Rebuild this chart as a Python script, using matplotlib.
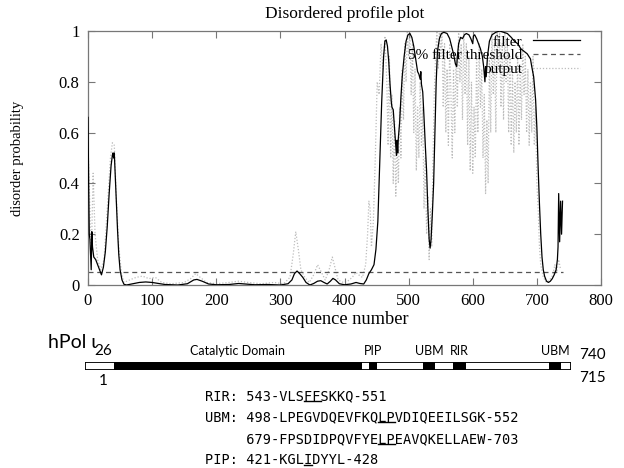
import matplotlib
matplotlib.use("Agg")
import matplotlib.pyplot as plt
from matplotlib.lines import Line2D
from matplotlib.transforms import blended_transform_factory

# ---------------- data ----------------
filter_x = [0, 1, 2, 3, 4, 5, 6, 7, 9, 12, 15, 18, 21, 24, 27, 30, 33, 36, 38, 39, 40, 41, 42, 44, 46, 48, 50, 53, 56, 60,
            70, 80, 90, 100, 110, 120, 140, 155, 165, 170, 178, 188, 200, 220, 235, 245, 260, 280, 300, 312, 318, 322, 326,
            330, 335, 340, 346, 352, 358, 363, 368, 373, 378, 382, 386, 392, 400, 410, 418, 424, 430, 434, 438, 442, 446,
            449, 452, 455, 458, 461, 463, 465, 467, 469, 471, 473, 474, 476, 478, 480, 481, 482, 483, 484, 486, 488, 490,
            493, 496, 499, 502, 505, 508, 511, 514, 516, 518, 519, 520, 522, 524, 526, 528, 530, 532, 533.5, 535, 537, 539,
            541, 543, 545, 548, 551, 555, 560, 564, 567, 570, 573, 575, 576, 578, 581, 584, 587, 590, 594, 597, 600, 601,
            603, 606, 609, 612, 615, 617, 619, 620, 621, 623, 626, 630, 636, 642, 648, 654, 660, 665, 670, 675, 680, 685,
            690, 692, 695, 698, 700, 702, 704, 706, 708, 710, 712, 715, 718, 721, 724, 727, 730, 732, 733, 734, 735.5,
            737, 738.5, 740]
filter_y = [0.66, 0.40, 0.20, 0.18, 0.12, 0.06, 0.21, 0.15, 0.11, 0.10, 0.08, 0.06, 0.04, 0.07, 0.13, 0.23, 0.36, 0.47,
            0.51, 0.52, 0.50, 0.52, 0.46, 0.33, 0.22, 0.12, 0.06, 0.02, 0.003, 0.0,
            0.005, 0.01, 0.012, 0.01, 0.006, 0.002, 0.0, 0.005, 0.02, 0.022, 0.015, 0.004, 0.001, 0.002, 0.006, 0.004,
            0.001, 0.002, 0.0, 0.005, 0.02, 0.045, 0.055,
            0.045, 0.03, 0.01, 0.0, 0.006, 0.015, 0.017, 0.01, 0.004, 0.015, 0.026, 0.02, 0.005, 0.001, 0.004, 0.01,
            0.006, 0.004, 0.02, 0.045, 0.06, 0.08,
            0.14, 0.25, 0.48, 0.72, 0.90, 0.96, 0.965, 0.94, 0.88, 0.79, 0.72, 0.70, 0.69, 0.62, 0.55, 0.51, 0.57, 0.52,
            0.58, 0.64, 0.74, 0.82,
            0.90, 0.96, 0.985, 0.99, 0.975, 0.94, 0.89, 0.84, 0.83, 0.81, 0.84, 0.79, 0.76, 0.66, 0.55, 0.45, 0.30, 0.18,
            0.145, 0.18, 0.28, 0.40,
            0.60, 0.80, 0.92, 0.97, 0.99, 0.995, 0.99, 0.97, 0.94, 0.91, 0.87, 0.86, 0.90, 0.95, 0.975, 0.97, 0.985, 0.99,
            0.985, 0.97, 0.95, 0.98,
            0.985, 0.97, 0.95, 0.93, 0.90, 0.86, 0.80, 0.86, 0.82, 0.90, 0.96, 0.985, 0.995, 1.0, 0.995, 0.99, 0.975, 0.96,
            0.95, 0.93, 0.92, 0.91,
            0.89, 0.86, 0.82, 0.73, 0.62, 0.46, 0.32, 0.20, 0.11, 0.06, 0.035, 0.015, 0.01, 0.015, 0.025, 0.04, 0.06, 0.10,
            0.15, 0.36, 0.17,
            0.33, 0.20, 0.33]

output_x = [0, 3, 5, 8, 11, 15, 20, 25, 30, 35, 38, 41, 44, 48, 52, 56, 65, 75, 85, 95, 105, 115, 130, 150, 160, 168, 175,
            185, 200, 220, 235, 250, 270, 290, 305, 315, 320, 324, 328, 332, 338, 345, 352, 358, 362, 370, 376, 381, 385,
            390, 398, 405, 412, 418, 422, 428, 433, 436, 438, 440, 442, 445, 448, 451, 454, 457, 460, 463, 466, 468, 470,
            472, 474, 476, 478, 480, 482, 484, 486, 488, 490, 492, 494, 496, 498, 500, 502, 504, 506, 508, 510, 512, 514,
            516, 518, 520, 522, 524, 526, 528, 530, 532, 534, 536, 538, 540, 542, 544, 546, 548, 550, 552, 554, 556, 558,
            560, 562, 564, 566, 568, 570, 572, 574, 576, 578, 580, 582, 584, 586, 588, 590, 592, 594, 596, 598, 600, 602,
            604, 606, 608, 610, 612, 614, 616, 618, 620, 622, 624, 626, 628, 630, 632, 634, 636, 638, 640, 642, 644, 646,
            648, 650, 652, 654, 656, 658, 660, 662, 664, 666, 668, 670, 672, 674, 676, 678, 680, 682, 684, 686, 688, 690,
            692, 694, 696, 698, 700, 702, 704, 706, 710, 715, 720, 725, 728, 731, 734, 737]
output_y = [0.55, 0.30, 0.10, 0.44, 0.20, 0.10, 0.06, 0.10, 0.30, 0.50, 0.56, 0.55, 0.35, 0.15, 0.05, 0.01, 0.02, 0.03,
            0.035, 0.025, 0.03, 0.01, 0.005, 0.01, 0.025, 0.045, 0.03,
            0.01, 0.005, 0.01, 0.015, 0.01, 0.005, 0.01, 0.005, 0.03, 0.12, 0.21, 0.14, 0.06, 0.03, 0.01, 0.04, 0.08, 0.06,
            0.02, 0.06, 0.11, 0.07,
            0.02, 0.01, 0.015, 0.03, 0.05, 0.04, 0.03, 0.08, 0.20, 0.33, 0.30, 0.15, 0.25, 0.50, 0.80, 0.75, 0.95, 0.85,
            0.98, 0.80, 0.55, 0.90,
            0.50, 0.75, 0.40, 0.65, 0.35, 0.55, 0.40, 0.70, 0.50, 0.85, 0.65, 0.95, 0.80, 1.0, 0.90, 1.0, 0.75, 0.95, 0.60,
            0.85, 0.45, 0.70,
            0.50, 0.80, 0.55, 0.70, 0.30, 0.50, 0.20, 0.35, 0.10, 0.30, 0.15, 0.50, 0.75, 0.90, 1.0, 0.85, 1.0, 0.90, 1.0,
            0.70, 0.95, 0.60,
            0.85, 0.55, 0.95, 0.75, 0.50, 0.85, 0.60, 0.90, 0.70, 1.0, 0.80, 0.95, 0.65, 1.0, 0.75, 0.95, 0.55, 0.90, 0.45,
            0.80, 0.44, 0.70,
            0.50, 0.90, 0.60, 0.95, 0.70, 0.85, 0.50, 0.75, 0.36, 0.65, 0.40, 0.90, 0.60, 1.0, 0.75, 0.95, 0.60, 1.0, 0.85,
            1.0, 0.70, 0.95,
            0.65, 1.0, 0.80, 0.95, 0.60, 0.90, 0.55, 0.85, 0.52, 0.80, 0.60, 0.90, 0.55, 0.85, 0.65, 0.95, 0.75, 0.90, 0.60,
            0.85, 0.55, 0.80,
            0.60, 0.90, 0.55, 0.70, 0.40, 0.30, 0.15, 0.08, 0.03, 0.01, 0.02, 0.04, 0.08, 0.05, 0.10, 0.06]

threshold_value = 0.05
threshold_x = [0, 741]

x_ticks = [0, 100, 200, 300, 400, 500, 600, 700, 800]
y_ticks = [0, 0.2, 0.4, 0.6, 0.8, 1.0]
y_tick_labels = ["0", "0.2", "0.4", "0.6", "0.8", "1"]

protein_length = 740
domain_names = ["Catalytic Domain", "PIP", "UBM", "RIR", "UBM"]
domain_starts = [45.1, 433.6, 514.8, 561.4, 707.0]
domain_ends = [422.0, 445.7, 533.5, 580.7, 725.2]

motif_lines = ["RIR: 543-VLSFFSKKQ-551",
               "UBM: 498-LPEGVDQEVFKQLPVDIQEEILSGK-552",
               "     679-FPSDIDPQVFYELPEAVQKELLAEW-703",
               "PIP: 421-KGLIDYYL-428"]
# (line index, first underlined char, one past last underlined char)
underlines = [(0, 12, 14), (1, 21, 23), (2, 21, 23), (3, 12, 13)]

# ---------------- figure ----------------
W, H = 624, 468
fig = plt.figure(figsize=(W / 100, H / 100), dpi=100)
serif = "Liberation Serif"
fs = 12

ax = fig.add_axes([88 / W, 1 - 285 / H, 513 / W, 254 / H])
ax.plot(output_x, output_y, color="#bdbdbd", linestyle=(0, (1, 1.5)), linewidth=0.9, label="output", zorder=1)
ax.plot(threshold_x, [threshold_value] * 2, color="#555555", linestyle=(0, (4, 3)), linewidth=0.9,
        label="5% filter threshold", zorder=2)
ax.plot(filter_x, filter_y, color="black", linewidth=0.9, label="filter", zorder=3)

ax.set_xlim(0, 800)
ax.set_ylim(0, 1)
ax.set_xticks(x_ticks)
ax.set_xticklabels([str(t) for t in x_ticks], family=serif, fontsize=fs)
ax.set_yticks(y_ticks)
ax.set_yticklabels(y_tick_labels, family=serif, fontsize=fs)
ax.tick_params(direction="in", length=5, width=0.8, color="#777777", top=True, right=True, pad=6)
for s in ax.spines.values():
    s.set_color("#777777")
    s.set_linewidth(0.9)
ax.set_title("Disordered profile plot", family=serif, fontsize=12.5, pad=9)
ax.set_xlabel("sequence number", family=serif, fontsize=13.2, labelpad=1)
ax.set_ylabel("disorder probability", family=serif, fontsize=10.5, labelpad=25)

h, l = ax.get_legend_handles_labels()
order = [2, 1, 0]
leg_fs = 11
ax.legend([h[i] for i in order], [l[i] for i in order], loc="upper right", frameon=False,
          markerfirst=False, handlelength=3.1, labelspacing=0.0, handletextpad=0.65,
          borderaxespad=0.0, borderpad=0.0, bbox_to_anchor=(0.959, 0.985),
          prop={"family": serif, "size": leg_fs})

# ---------------- domain diagram ----------------
ax2 = fig.add_axes([85 / W, 1 - 370 / H, 485.7 / W, 8 / H])
ax2.set_xlim(1, protein_length)
ax2.set_ylim(0, 1)
ax2.axis("off")
ax2.barh(0.5, protein_length - 1, left=1, height=1, color="white", edgecolor="black", linewidth=1.3, zorder=1)
ax2.barh([0.5] * len(domain_starts), [e - s for s, e in zip(domain_starts, domain_ends)], left=domain_starts,
         height=1, color="black", zorder=2)

sans = ["Lato", "DejaVu Sans"]
tr = blended_transform_factory(ax2.transData, fig.transFigure)
for name, s, e in zip(domain_names, domain_starts, domain_ends):
    ax2.text((s + e) / 2, 1 - 351 / H, name, transform=tr, ha="center", va="center", family=sans, fontsize=9)

fig.text(48 / W, 1 - 343 / H, "hPol ι", ha="left", va="center", family=sans, fontsize=14)
fig.text(103 / W, 1 - 351 / H, "26", ha="center", va="center", family=sans, fontsize=11)
fig.text(103 / W, 1 - 381 / H, "1", ha="center", va="center", family=sans, fontsize=11)
fig.text(592 / W, 1 - 355 / H, "740", ha="center", va="center", family=sans, fontsize=11)
fig.text(592 / W, 1 - 378 / H, "715", ha="center", va="center", family=sans, fontsize=11)

mono = "DejaVu Sans Mono"
mono_fs = 9.8
line_y = [396, 417.5, 439, 460.5]
texts = []
for t, yy in zip(motif_lines, line_y):
    texts.append(fig.text(205 / W, 1 - yy / H, t, ha="left", va="center", family=mono, fontsize=mono_fs))

fig.canvas.draw()
renderer = fig.canvas.get_renderer()


def prefix_width(s):
    if not s:
        return 0.0
    tmp = fig.text(0, 0, s.replace(" ", "."), family=mono, fontsize=mono_fs)
    w = tmp.get_window_extent(renderer).width
    tmp.remove()
    return w


for li, c0, c1 in underlines:
    bb = texts[li].get_window_extent(renderer)
    s = motif_lines[li]
    x0 = bb.x0 + prefix_width(s[:c0])
    x1 = bb.x0 + prefix_width(s[:c1])
    yl = bb.y0 + 2.5
    fig.add_artist(Line2D([x0, x1], [yl, yl], color="black", linewidth=1.0, transform=None))

fig.savefig("out.png", dpi=100)
